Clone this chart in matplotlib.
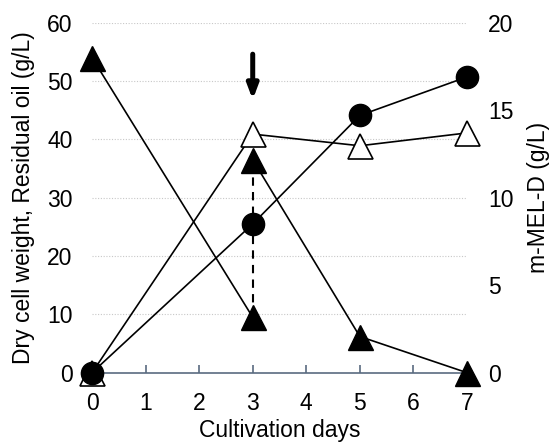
import matplotlib
matplotlib.use("Agg")
import matplotlib.pyplot as plt

plt.rcParams['font.family'] = ['Liberation Sans', 'DejaVu Sans']

days = [0, 3, 5, 7]
dry_cell_weight = [0, 40.9, 38.9, 41.1]
oil_days_before = [0, 3]
oil_before = [54.0, 9.5]
oil_days_after = [3, 5, 7]
oil_after = [36.5, 6.2, 0.0]
mel_d = [0, 8.5, 14.7, 16.9]
left_ticks = [0, 10, 20, 30, 40, 50, 60]
right_ticks = [0, 5, 10, 15, 20]
x_ticks = [0, 1, 2, 3, 4, 5, 6, 7]

fs = 16.5
fig = plt.figure(figsize=(5.52, 4.42), dpi=100)
ax = fig.add_axes([0.1667, 0.1568, 0.6793, 0.7919])
ax.set_xlim(0, 7)
ax.set_ylim(0, 60)
for y in left_ticks[1:]:
    ax.axhline(y, color='#c8c8c8', lw=0.8, ls=(0, (1, 1.5)), zorder=0)

lw = 1.2
# dry cell weight (open triangles)
ax.plot(days, dry_cell_weight, color='black', lw=lw, marker='^', ms=18,
        mfc='white', mec='black', mew=1.2, clip_on=False, zorder=4)
# residual oil (filled triangles)
ax.plot(oil_days_before, oil_before, color='black', lw=lw, marker='^', ms=18,
        mfc='black', mec='black', clip_on=False, zorder=3)
ax.plot(oil_days_after, oil_after, color='black', lw=lw, marker='^', ms=18,
        mfc='black', mec='black', clip_on=False, zorder=3)
ax.plot([oil_days_before[-1], oil_days_after[0]], [oil_before[-1], oil_after[0]],
        color='black', lw=1.5, ls=(0, (4, 3)), zorder=2)

# arrow
ax.annotate('', xy=(3, 46.8), xytext=(3, 54.6),
            arrowprops=dict(arrowstyle='-|>,head_width=0.32,head_length=0.85',
                            lw=3.6, color='black', shrinkA=0, shrinkB=0))

ax.set_xticks(x_ticks)
ax.set_yticks(left_ticks)
for s in ['top', 'left', 'right']:
    ax.spines[s].set_visible(False)
ax.spines['bottom'].set_color('#5a6b80')
ax.spines['bottom'].set_linewidth(1.2)
ax.tick_params(axis='x', direction='in', length=6, width=1.2, color='#5a6b80',
               labelsize=fs, pad=14)
ax.tick_params(axis='y', length=0, labelsize=fs, pad=14)
ax.set_xlabel('Cultivation days', fontsize=fs, labelpad=3)
ax.set_ylabel('Dry cell weight, Residual oil (g/L)', fontsize=fs, labelpad=9)

ax2 = ax.twinx()
ax2.set_ylim(0, 20)
ax2.set_yticks(right_ticks)
for s in ['top', 'left', 'right', 'bottom']:
    ax2.spines[s].set_visible(False)
ax2.tick_params(axis='y', length=0, labelsize=fs, pad=15)
ax2.plot(days, mel_d, color='black', lw=lw, marker='o', ms=16,
         mfc='black', mec='black', clip_on=False, zorder=5)
ax2.set_ylabel('m-MEL-D (g/L)', fontsize=fs, labelpad=10)

fig.savefig('out.png', dpi=100)
